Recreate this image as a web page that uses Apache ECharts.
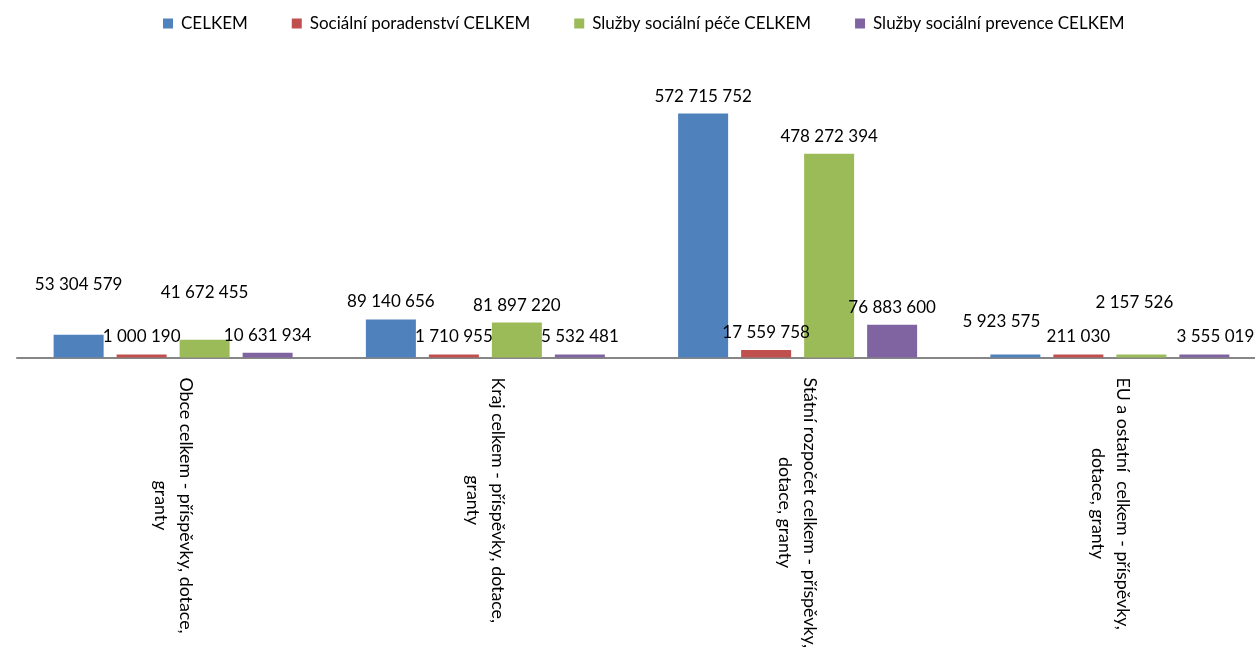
<!DOCTYPE html>
<html>
<head>
<meta charset="utf-8">
<script src="https://cdn.jsdelivr.net/npm/echarts@6/dist/echarts.min.js"></script>
<style>
    html, body { margin: 0; padding: 0; background: #fff; overflow: hidden; }
    /* the original plot runs past the right edge, so the chart is a bit wider than the window */
    #chart { width: 1266px; height: 651px; }
</style>
</head>
<body>
<div id="chart"></div>
<script>
const categories = [
    "Obce celkem - příspěvky, dotace,\ngranty",
    "Kraj celkem - příspěvky, dotace,\ngranty",
    "Státní rozpočet celkem - příspěvky,\ndotace, granty",
    "EU a ostatní  celkem - příspěvky,\ndotace, granty"
];

const seriesNames = [
    "CELKEM",
    "Sociální poradenství CELKEM",
    "Služby sociální péče CELKEM",
    "Služby sociální prevence CELKEM"
];

const celkem = [53304579, 89140656, 572715752, 5923575];
const poradenstvi = [1000190, 1710955, 17559758, 211030];
const pece = [41672455, 81897220, 478272394, 2157526];
const prevence = [10631934, 5532481, 76883600, 3555019];

const colors = ["#4F81BD", "#C0504D", "#9BBB59", "#8064A2"];
const font = "Lato";

// hand placed labels in the original chart
const labelNudge = {
    "0-0": [0, -33],
    "2-0": [0, -30],
    "0-3": [-14, -15],
    "2-3": [-7, -34],
    "3-3": [11, 0]
};

function spaced(v) {
    return String(v).replace(/\B(?=(\d{3})+(?!\d))/g, " ");
}

function buildSeries() {
    const values = [celkem, poradenstvi, pece, prevence];

    return values.map((vals, s) => ({
        name: seriesNames[s],
        type: "bar",
        barWidth: 50,
        barGap: "26%",
        barMinHeight: 3,
        itemStyle: { color: colors[s] },
        label: {
            show: true,
            position: "top",
            distance: 9,
            color: "#000",
            fontFamily: font,
            fontSize: 17,
            formatter: p => spaced(p.value)
        },
        data: vals.map((v, i) => {
            const nudge = labelNudge[s+"-"+i];
            if ( !nudge )
                return v;
            return { value: v, label: { offset: nudge } };
        })
    }));
}

const labelRich = {
    a: { fontFamily: font, fontSize: 17.8, lineHeight: 25, color: "#000" },
    c: { fontFamily: font, fontSize: 17.8, lineHeight: 25, color: "#000", align: "center" }
};

const option = {
    animation: false,
    color: colors,
    legend: {
        top: 15,
        left: 163,
        padding: 0,
        icon: "rect",
        itemWidth: 10,
        itemHeight: 10,
        itemGap: 44,
        textStyle: {
            fontFamily: font,
            fontSize: 17,
            color: "#000",
            padding: [0, 0, 0, 3]
        },
        data: seriesNames
    },
    grid: {
        left: 17,
        right: 0,
        top: 102,
        bottom: 293
    },
    xAxis: {
        type: "category",
        data: categories,
        axisTick: { show: false },
        axisLine: { lineStyle: { color: "#868686", width: 2 } },
        axisLabel: {
            interval: 0,
            rotate: -90,
            margin: 20,
            formatter: text => {
                const [first, second] = text.split("\n");
                return "{a|"+first+"}\n{c|"+second+"}";
            },
            rich: labelRich
        }
    },
    yAxis: {
        type: "value",
        min: 0,
        max: 600000000,
        show: false,
        splitLine: { show: false }
    },
    series: buildSeries()
};

const chart = echarts.init(document.getElementById("chart"));
chart.setOption(option);
</script>
</body>
</html>
